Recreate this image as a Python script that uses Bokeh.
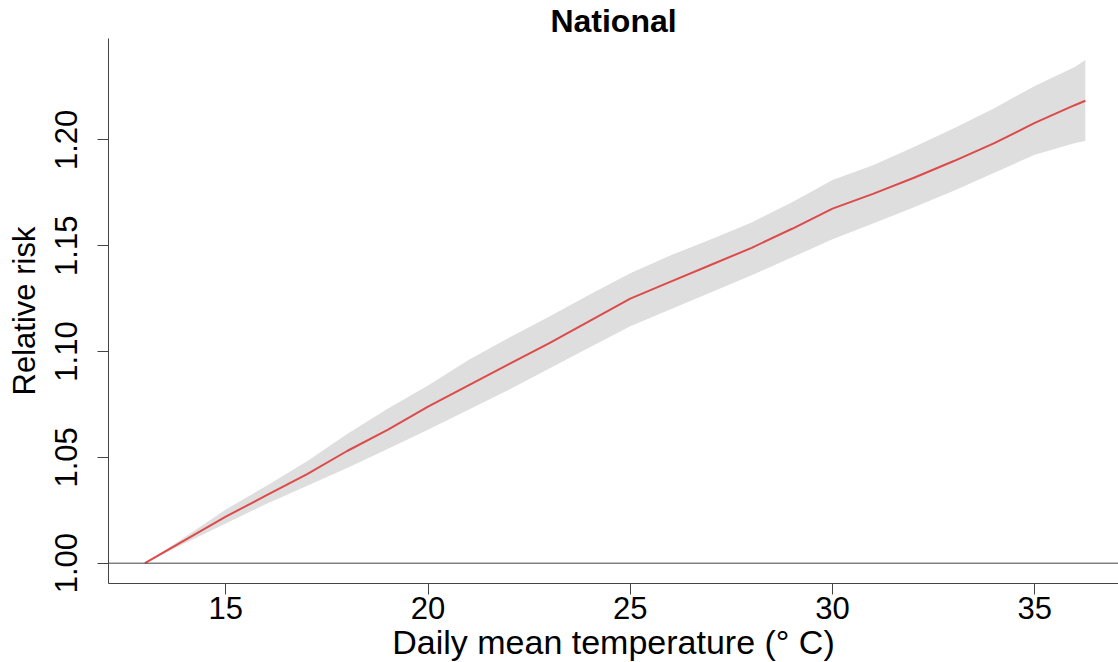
from bokeh.plotting import figure
from bokeh.models import Range1d, Span, FixedTicker
from bokeh.embed import file_html
from bokeh.resources import INLINE

# Data
temperature = [13, 14, 15, 16, 17, 18, 19, 20, 21, 22, 23, 24, 25, 26, 27, 28,
               29, 30, 31, 32, 33, 34, 35, 36, 36.25]
relative_risk = [1.000, 1.011, 1.022, 1.032, 1.042, 1.053, 1.063, 1.074, 1.084,
                 1.094, 1.104, 1.1145, 1.125, 1.133, 1.141, 1.149, 1.158, 1.1675,
                 1.1745, 1.182, 1.190, 1.1985, 1.208, 1.2165, 1.2185]
rr_lower = [1.000, 1.0095, 1.0188, 1.028, 1.0365, 1.045, 1.054, 1.063, 1.0725,
            1.082, 1.092, 1.102, 1.112, 1.120, 1.128, 1.136, 1.1445, 1.153,
            1.1605, 1.168, 1.176, 1.1845, 1.193, 1.1985, 1.1995]
rr_upper = [1.000, 1.0125, 1.0254, 1.0365, 1.048, 1.061, 1.073, 1.084, 1.096,
            1.1065, 1.1165, 1.127, 1.137, 1.1455, 1.153, 1.161, 1.1705, 1.181,
            1.188, 1.1965, 1.2055, 1.215, 1.2255, 1.2345, 1.2377]
x_ticks = [15, 20, 25, 30, 35]
y_ticks = [1.00, 1.05, 1.10, 1.15, 1.20]
y_tick_labels = {1.00: "1.00", 1.05: "1.05", 1.10: "1.10", 1.15: "1.15", 1.20: "1.20"}
title_text = "National"
x_label = "Daily mean temperature (\u00b0 C)"
y_label = "Relative risk"

FONT = "Liberation Sans"

p = figure(frame_width=1010, frame_height=545,
           min_border_left=108, min_border_right=0,
           min_border_top=37, min_border_bottom=80,
           x_range=Range1d(12.1, 37.07), y_range=Range1d(0.9904, 1.2479),
           output_backend="svg", toolbar_location=None)

p.outline_line_color = None
p.xgrid.visible = False
p.ygrid.visible = False
p.background_fill_color = "white"
p.border_fill_color = "white"

p.title.text = title_text
p.title.align = "center"
p.title.text_font = FONT
p.title.text_font_style = "bold"
p.title.text_font_size = "32px"
p.title.text_color = "black"
p.title.standoff = 0
p.title.offset = 0

# ribbon and line
p.varea(x=temperature, y1=rr_lower, y2=rr_upper, fill_color="#DEDEDE", fill_alpha=1.0)
p.line(x=temperature, y=relative_risk, line_color="#DD4A4A", line_width=2)

p.add_layout(Span(location=1.0, dimension="width", line_color="#444444", line_width=1))

# axes
for ax in (p.xaxis[0], p.yaxis[0]):
    ax.axis_line_color = "#444444"
    ax.major_tick_line_color = "#444444"
    ax.major_tick_out = 11
    ax.major_tick_in = 0
    ax.minor_tick_line_color = None
    ax.major_label_text_font = FONT
    ax.major_label_text_color = "black"
    ax.major_label_text_font_size = "31px"
    ax.axis_label_text_font = FONT
    ax.axis_label_text_font_style = "normal"
    ax.axis_label_text_color = "black"

p.xaxis.axis_label_text_font_size = "34px"
p.yaxis.axis_label_text_font_size = "31px"
p.xaxis.ticker = FixedTicker(ticks=x_ticks)
p.yaxis.ticker = FixedTicker(ticks=y_ticks)
p.yaxis.major_label_overrides = y_tick_labels
p.yaxis.major_label_orientation = "vertical"
p.xaxis.axis_label = x_label
p.yaxis.axis_label = y_label
p.xaxis.major_label_standoff = 2
p.xaxis.axis_label_standoff = 1
p.yaxis.major_label_standoff = 20
p.yaxis.axis_label_standoff = 11

open("out.html", "w").write(file_html(p, INLINE))
